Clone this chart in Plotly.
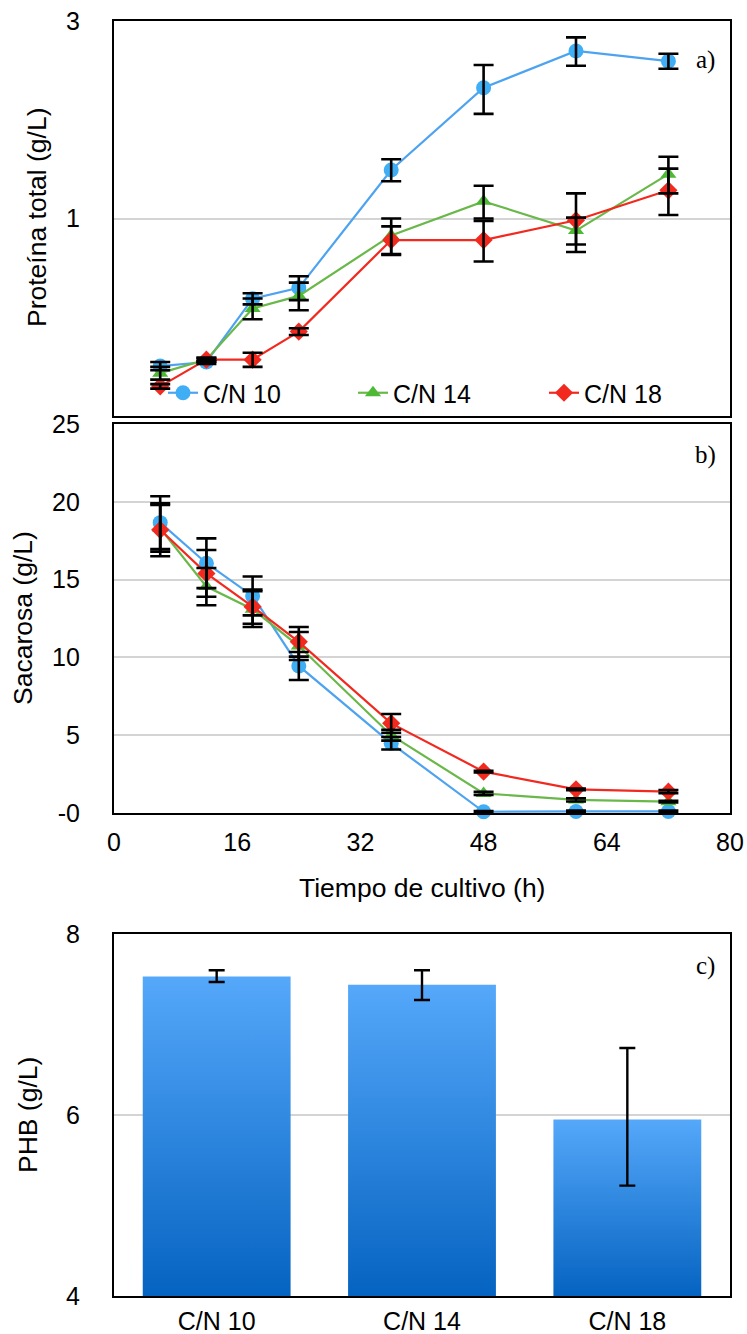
import plotly.graph_objects as go

# ---------------- data ----------------
time_h = [6, 12, 18, 24, 36, 48, 60, 72]
series_names = ["C/N 10", "C/N 14", "C/N 18"]

protein_cn10 = [0.44, 0.45, 0.64, 0.68, 1.31, 2.07, 2.54, 2.40]
protein_cn14 = [0.423, 0.456, 0.606, 0.650, 0.91, 1.10, 0.935, 1.28]
protein_cn18 = [0.393, 0.456, 0.456, 0.533, 0.887, 0.887, 0.99, 1.17]
protein_err_cn10 = [0.01, 0.005, 0.02, 0.045, 0.08, 0.28, 0.20, 0.10]
protein_err_cn14 = [0.015, 0.005, 0.035, 0.05, 0.09, 0.10, 0.07, 0.13]
protein_err_cn18 = [0.005, 0.005, 0.018, 0.01, 0.07, 0.10, 0.16, 0.15]

sucrose_cn10 = [18.66, 16.05, 13.95, 9.45, 4.48, 0.08, 0.10, 0.10]
sucrose_cn14 = [18.3, 14.55, 13.1, 10.73, 5.0, 1.26, 0.84, 0.73]
sucrose_cn18 = [18.2, 15.4, 13.26, 11.0, 5.76, 2.66, 1.52, 1.37]
sucrose_err_cn10 = [1.7, 1.6, 1.25, 0.9, 0.4, 0.05, 0.05, 0.05]
sucrose_err_cn14 = [1.5, 1.2, 1.15, 0.9, 0.35, 0.1, 0.1, 0.05]
sucrose_err_cn18 = [1.7, 1.5, 1.1, 0.95, 0.6, 0.05, 0.05, 0.1]

phb_categories = ["C/N 10", "C/N 14", "C/N 18"]
phb_values = [7.53, 7.44, 5.95]
phb_err_plus = [0.07, 0.16, 0.79]
phb_err_minus = [0.06, 0.17, 0.73]

x_ticks = [0, 16, 32, 48, 64, 80]
sucrose_ticks = [0, 5, 10, 15, 20, 25]
sucrose_ticktext = ["-0", "5", "10", "15", "20", "25"]
protein_ticks = [1, 3]
phb_ticks = [4, 6, 8]

# ---------------- styles ----------------
W, H = 747, 1334
FONT = "Liberation Sans"
line_colors = ["#4DA3F0", "#6AB84A", "#F2291F"]
marker_colors = ["#3FAEF5", "#4DB935", "#F2291F"]
symbols = ["circle", "triangle-up", "diamond"]
msizes = [15, 14, 14]
GRID = "#D4D4D4"
legend_ids = ["legend", "legend2", "legend3"]
legend_px = [163, 353, 544]


def px_x(p):
    return p / W


def px_y(p):
    return 1 - p / H


dom_x = [px_x(114), px_x(730)]
dom_a = [px_y(416), px_y(21)]
dom_b = [px_y(813), px_y(424)]
dom_c = [px_y(1296), px_y(934)]

fig = go.Figure()

prot = [protein_cn10, protein_cn14, protein_cn18]
prot_err = [protein_err_cn10, protein_err_cn14, protein_err_cn18]
suc = [sucrose_cn10, sucrose_cn14, sucrose_cn18]
suc_err = [sucrose_err_cn10, sucrose_err_cn14, sucrose_err_cn18]

# panel a lines
for i, name in enumerate(series_names):
    fig.add_trace(go.Scatter(
        x=time_h, y=prot[i], name=name, mode="lines+markers",
        line=dict(color=line_colors[i], width=2.2),
        marker=dict(symbol=symbols[i], size=msizes[i], color=marker_colors[i]),
        xaxis="x", yaxis="y", cliponaxis=False, legend=legend_ids[i],
    ))
for i, name in enumerate(series_names):
    fig.add_trace(go.Scatter(
        x=time_h, y=prot[i], mode="markers", showlegend=False,
        marker=dict(size=1, color="rgba(0,0,0,0)"),
        error_y=dict(type="data", array=prot_err[i], color="black", thickness=2.6, width=10),
        xaxis="x", yaxis="y", cliponaxis=False, hoverinfo="skip",
    ))

# panel b lines
for i, name in enumerate(series_names):
    fig.add_trace(go.Scatter(
        x=time_h, y=suc[i], name=name, mode="lines+markers", showlegend=False,
        line=dict(color=line_colors[i], width=2.2),
        marker=dict(symbol=symbols[i], size=msizes[i], color=marker_colors[i]),
        xaxis="x2", yaxis="y2", cliponaxis=False,
    ))
for i, name in enumerate(series_names):
    fig.add_trace(go.Scatter(
        x=time_h, y=suc[i], mode="markers", showlegend=False,
        marker=dict(size=1, color="rgba(0,0,0,0)"),
        error_y=dict(type="data", array=suc_err[i], color="black", thickness=2.6, width=10),
        xaxis="x2", yaxis="y2", cliponaxis=False, hoverinfo="skip",
    ))

# panel c bars with vertical gradient
BAR_W = 0.72
phb_x = list(range(len(phb_categories)))
for xi, v in zip(phb_x, phb_values):
    fig.add_trace(go.Scatter(
        x=[xi - BAR_W / 2, xi - BAR_W / 2, xi + BAR_W / 2, xi + BAR_W / 2, xi - BAR_W / 2],
        y=[4, v, v, 4, 4], mode="lines", fill="toself",
        line=dict(width=0, color="rgba(0,0,0,0)"),
        fillgradient=dict(type="vertical", colorscale=[[0, "#0563C1"], [1, "#55A8FA"]]),
        showlegend=False, hoverinfo="skip", xaxis="x3", yaxis="y3",
    ))
fig.add_trace(go.Scatter(
    x=phb_x, y=phb_values, mode="markers",
    marker=dict(size=1, color="rgba(0,0,0,0)"),
    error_y=dict(type="data", array=phb_err_plus, arrayminus=phb_err_minus,
                 color="black", thickness=2.4, width=8),
    showlegend=False, xaxis="x3", yaxis="y3", cliponaxis=False,
))

tickfont = dict(family=FONT, size=25, color="black")
axis_common = dict(showline=True, mirror=True, linecolor="black", linewidth=2.2,
                   ticks="", zeroline=False, tickfont=tickfont, automargin=False,
                   ticklabeloverflow="allow")

legend_common = dict(orientation="h", yanchor="middle", xanchor="left",
                     bgcolor="rgba(0,0,0,0)", borderwidth=0,
                     font=dict(family=FONT, size=25, color="black"), itemclick=False)

fig.update_layout(
    width=W, height=H, margin=dict(l=0, r=0, t=0, b=0, autoexpand=False),
    paper_bgcolor="white", plot_bgcolor="white",
    font=dict(family=FONT, size=25, color="black"),
    showlegend=True,
    legend=dict(x=px_x(legend_px[0]), y=px_y(393), **legend_common),
    legend2=dict(x=px_x(legend_px[1]), y=px_y(393), **legend_common),
    legend3=dict(x=px_x(legend_px[2]), y=px_y(393), **legend_common),
    xaxis=dict(domain=dom_x, anchor="y", range=[0, 80], showticklabels=False,
               showgrid=False, **axis_common),
    yaxis=dict(domain=dom_a, anchor="x", type="log", range=[-0.47722, 0.47722],
               tickvals=protein_ticks, ticktext=["1", "3"], showgrid=True, gridcolor=GRID,
               gridwidth=1.5, ticklabelstandoff=27, **axis_common),
    xaxis2=dict(domain=dom_x, anchor="y2", range=[0, 80], tickvals=x_ticks,
                showgrid=False, ticklabelstandoff=6, **axis_common),
    yaxis2=dict(domain=dom_b, anchor="x2", range=[0, 25], tickvals=sucrose_ticks,
                ticktext=sucrose_ticktext, showgrid=True, gridcolor=GRID, gridwidth=1.5,
                ticklabelstandoff=27, **axis_common),
    xaxis3=dict(domain=dom_x, anchor="y3", range=[-0.5, 2.5], tickvals=phb_x,
                ticktext=phb_categories, showgrid=False, ticklabelstandoff=2, **axis_common),
    yaxis3=dict(domain=dom_c, anchor="x3", range=[4, 8], tickvals=phb_ticks,
                showgrid=True, gridcolor=GRID, gridwidth=1.5, ticklabelstandoff=27,
                **axis_common),
)

ann_font = dict(family=FONT, size=26.5, color="black")
letter_font = dict(family="Liberation Serif", size=25, color="black")
ann_common = dict(xref="paper", yref="paper", showarrow=False,
                  xanchor="center", yanchor="middle")
fig.add_annotation(text="Proteína total (g/L)", x=px_x(37), y=px_y(218),
                   textangle=-90, font=ann_font, **ann_common)
fig.add_annotation(text="Sacarosa (g/L)", x=px_x(23), y=px_y(618),
                   textangle=-90, font=ann_font, **ann_common)
fig.add_annotation(text="PHB (g/L)", x=px_x(28), y=px_y(1115),
                   textangle=-90, font=ann_font, **ann_common)
fig.add_annotation(text="Tiempo de cultivo (h)", x=px_x(422), y=px_y(888),
                   font=ann_font, **ann_common)
for lbl, yy in [("a)", 60), ("b)", 455), ("c)", 966)]:
    fig.add_annotation(text=lbl, x=px_x(705), y=px_y(yy), font=letter_font, **ann_common)

fig.write_html(
    "out.html",
    config={"displayModeBar": False},
    post_script="document.body.style.margin='0';document.body.style.overflow='hidden';",
)
